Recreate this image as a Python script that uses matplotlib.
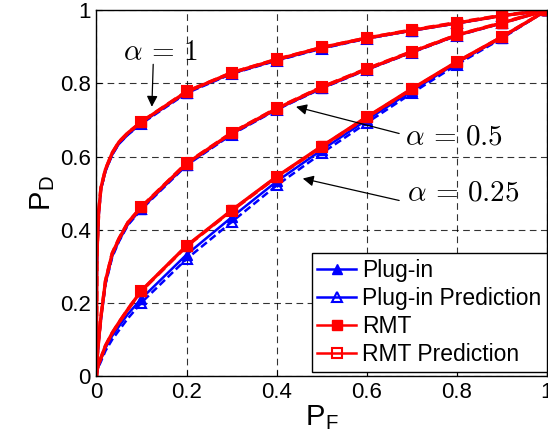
import matplotlib
matplotlib.use("Agg")
import matplotlib.pyplot as plt
from matplotlib.legend_handler import HandlerLine2D

plt.rcParams['font.family'] = ['Liberation Sans', 'DejaVu Sans']
plt.rcParams['mathtext.fontset'] = 'cm'

# false alarm grid (dense near zero, markers every 0.1)
pf = [0, 0.001, 0.002, 0.005, 0.01, 0.02, 0.035, 0.05, 0.07,
      0.1, 0.2, 0.3, 0.4, 0.5, 0.6, 0.7, 0.8, 0.9, 1.0]
mark_idx = list(range(9, 19))

# detection probability, alpha = 1
pd_plug_a1 = [0, 0.30, 0.35, 0.44, 0.51, 0.56, 0.605, 0.635, 0.66,
              0.692, 0.775, 0.827, 0.863, 0.896, 0.923, 0.944, 0.964, 0.985, 1.0]
pd_plug_pred_a1 = [0, 0.30, 0.35, 0.44, 0.51, 0.56, 0.605, 0.635, 0.66,
                   0.690, 0.773, 0.826, 0.862, 0.895, 0.922, 0.944, 0.964, 0.984, 1.0]
pd_rmt_a1 = [0, 0.31, 0.36, 0.45, 0.515, 0.565, 0.61, 0.64, 0.665,
             0.695, 0.777, 0.829, 0.865, 0.898, 0.924, 0.945, 0.965, 0.985, 1.0]
pd_rmt_pred_a1 = [0, 0.31, 0.36, 0.45, 0.515, 0.565, 0.61, 0.64, 0.665,
                  0.695, 0.778, 0.829, 0.866, 0.898, 0.924, 0.946, 0.966, 0.986, 1.0]

# alpha = 0.5
pd_plug_a05 = [0, 0.033, 0.052, 0.097, 0.158, 0.253, 0.328, 0.37, 0.415,
               0.458, 0.578, 0.662, 0.729, 0.787, 0.838, 0.885, 0.931, 0.965, 1.0]
pd_plug_pred_a05 = [0, 0.032, 0.05, 0.095, 0.155, 0.25, 0.325, 0.368, 0.413,
                    0.456, 0.576, 0.660, 0.728, 0.786, 0.837, 0.884, 0.930, 0.964, 1.0]
pd_rmt_a05 = [0, 0.035, 0.055, 0.10, 0.162, 0.26, 0.335, 0.375, 0.42,
              0.462, 0.581, 0.664, 0.731, 0.789, 0.839, 0.886, 0.932, 0.965, 1.0]
pd_rmt_pred_a05 = [0, 0.035, 0.055, 0.10, 0.163, 0.26, 0.336, 0.376, 0.42,
                   0.463, 0.582, 0.665, 0.732, 0.790, 0.840, 0.887, 0.932, 0.966, 1.0]

# alpha = 0.25
pd_plug_a025 = [0, 0.011, 0.018, 0.030, 0.046, 0.077, 0.110, 0.136, 0.170,
                0.212, 0.332, 0.434, 0.532, 0.618, 0.700, 0.779, 0.856, 0.925, 1.0]
pd_plug_pred_a025 = [0, 0.009, 0.015, 0.026, 0.040, 0.069, 0.100, 0.125, 0.158,
                     0.201, 0.320, 0.421, 0.521, 0.609, 0.692, 0.773, 0.851, 0.923, 1.0]
pd_rmt_a025 = [0, 0.012, 0.020, 0.033, 0.050, 0.083, 0.118, 0.147, 0.183,
               0.234, 0.356, 0.453, 0.545, 0.628, 0.708, 0.785, 0.859, 0.927, 1.0]
pd_rmt_pred_a025 = [0, 0.012, 0.020, 0.033, 0.050, 0.083, 0.118, 0.147, 0.183,
                    0.233, 0.355, 0.452, 0.544, 0.627, 0.707, 0.784, 0.858, 0.927, 1.0]

fig = plt.figure(figsize=(5.48, 4.42), dpi=100)
ax = fig.add_axes([0.176, 0.149, 0.822, 0.828])

ax.grid(True, color='black', linestyle=(0, (6, 4)), linewidth=0.8, alpha=0.8)
ax.set_axisbelow(True)

groups = [
    (pd_plug_a1, pd_plug_pred_a1, pd_rmt_a1, pd_rmt_pred_a1),
    (pd_plug_a05, pd_plug_pred_a05, pd_rmt_a05, pd_rmt_pred_a05),
    (pd_plug_a025, pd_plug_pred_a025, pd_rmt_a025, pd_rmt_pred_a025),
]

dash = (0, (3, 1.5))
handles = None
for plug, plug_pred, rmt, rmt_pred in groups:
    h1, = ax.plot(pf, plug, color='blue', lw=1.8, marker='^', ms=7,
                  mfc='blue', mec='blue', markevery=mark_idx)
    h2, = ax.plot(pf, plug_pred, color='blue', lw=1.8, ls=dash, marker='^', ms=7,
                  mfc='none', mec='blue', mew=1.5, markevery=mark_idx)
    h3, = ax.plot(pf, rmt, color='red', lw=2.4, marker='s', ms=7,
                  mfc='red', mec='red', markevery=mark_idx)
    h4, = ax.plot(pf, rmt_pred, color='red', lw=2.4, ls=dash, marker='s', ms=7,
                  mfc='none', mec='red', mew=1.5, markevery=mark_idx)
    handles = [h1, h2, h3, h4]

ax.set_xlim(0, 1)
ax.set_ylim(0, 1)
ax.set_xticks([0, 0.2, 0.4, 0.6, 0.8, 1])
ax.set_yticks([0, 0.2, 0.4, 0.6, 0.8, 1])
ax.set_xticklabels(['0', '0.2', '0.4', '0.6', '0.8', '1'])
ax.set_yticklabels(['0', '0.2', '0.4', '0.6', '0.8', '1'])
ax.tick_params(direction='in', length=4, labelsize=16, pad=4)
for s in ax.spines.values():
    s.set_linewidth(1.0)

ax.set_xlabel(r'P$_\mathregular{F}$', fontsize=21, labelpad=0)
ax.set_ylabel(r'P$_\mathregular{D}$', fontsize=21, labelpad=2)


def solid_handle(legline, orig):
    legline.update_from(orig)
    legline.set_linestyle('-')
    legline.set_linewidth(1.8)
    legline.set_markersize(6.5)


leg = ax.legend(handles, ['Plug-in', 'Plug-in Prediction', 'RMT', 'RMT Prediction'],
                loc='lower right', bbox_to_anchor=(1.0, 0.012), fontsize=16.5,
                fancybox=False, framealpha=1, edgecolor='black',
                handlelength=1.7, handletextpad=0.25, labelspacing=0.22,
                borderpad=0.25, borderaxespad=0,
                handler_map={h: HandlerLine2D(update_func=solid_handle) for h in handles})
leg.get_frame().set_linewidth(1.0)

# curve labels with arrows
arrow = dict(arrowstyle='-|>', color='black', lw=0.9, mutation_scale=16,
             shrinkA=0, shrinkB=0)
ax.text(0.06, 0.885, r'$\alpha\,=\,1$', fontsize=21, ha='left', va='center')
ax.annotate('', xy=(0.123, 0.736), xytext=(0.126, 0.852), arrowprops=arrow)
ax.text(0.685, 0.654, r'$\alpha\,=\,0.5$', fontsize=21, ha='left', va='center')
ax.annotate('', xy=(0.443, 0.736), xytext=(0.672, 0.663), arrowprops=arrow)
ax.text(0.690, 0.503, r'$\alpha\,=\,0.25$', fontsize=21, ha='left', va='center')
ax.annotate('', xy=(0.458, 0.540), xytext=(0.672, 0.480), arrowprops=arrow)

fig.savefig('out.png', dpi=100)
